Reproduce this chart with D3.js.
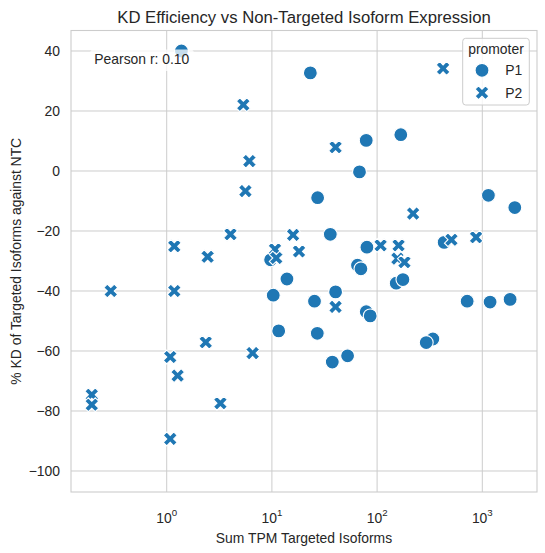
<!DOCTYPE html>
<html>
<head>
<meta charset="utf-8">
<script src="https://cdn.jsdelivr.net/npm/d3@7"></script>
<style>
  html, body { margin: 0; padding: 0; background: #fff; }
  svg { display: block; font-family: "Liberation Sans", Arial, sans-serif; }
</style>
</head>
<body>
<svg id="chart" width="545" height="553"></svg>
<script>
// ---- data ----
const p1X = [1.38, 23.2, 78.8, 168, 68, 27.2, 1143, 2037, 9.72, 13.9, 10.3, 11.6, 35.9, 80, 65.1, 70.2,
             152, 176, 434, 40.3, 25.4, 78.8, 86, 718, 1186, 1838, 27, 339, 293, 52.4, 37.5];
const p1Y = [40, 32.7, 10.2, 12.1, -0.3, -8.9, -8.1, -12.2, -29.6, -36, -41.4, -53.3, -21.1, -25.4, -31.4, -32.6,
             -37.4, -36.2, -23.8, -40.3, -43.4, -46.9, -48.3, -43.4, -43.7, -42.8, -54.1, -56, -57.2, -61.6, -63.7];
const p2X = [424, 5.35, 6.1, 5.6, 40.3, 220, 4.04, 1.18, 2.45, 15.9, 18.1, 10.7, 11.0, 0.294, 1.18,
             2.35, 6.56, 1.08, 1.27, 0.194, 0.194, 3.24, 1.08, 108, 160, 156, 182, 509, 873, 40.3];
const p2Y = [34.2, 22.1, 3.3, -6.7, 7.9, -14.2, -21.1, -25.1, -28.6, -21.3, -26.8, -26.1, -29.0, -40, -40,
             -57.1, -60.7, -62, -68.2, -74.6, -77.9, -77.4, -89.3, -24.8, -24.8, -29.2, -30.4, -22.9, -22.1, -45.3];
const promoters = ["P1", "P2"];
const xTickExps = [0, 1, 2, 3];
const yTicks = [-100, -80, -60, -40, -20, 0, 20, 40];
const pearsonLabel = "Pearson r: 0.10";
const titleText = "KD Efficiency vs Non-Targeted Isoform Expression";
const xLabelText = "Sum TPM Targeted Isoforms";
const yLabelText = "% KD of Targeted Isoforms against NTC";
const legendTitle = "promoter";

// ---- layout ----
const L = 71, R = 537, T = 30.5, B = 492;
const blue = "#1f77b4";
const grid = "#cccccc";
const textCol = "#262626";

const svg = d3.select("#chart");
const x = d3.scaleLog().domain([0.12309, 3311]).range([L, R]);
const y = d3.scaleLinear().domain([-107, 46.83]).range([B, T]);

// gridlines
const g = svg.append("g");
g.selectAll("line.xg").data(xTickExps).join("line")
  .attr("x1", d => x(Math.pow(10, d))).attr("x2", d => x(Math.pow(10, d)))
  .attr("y1", T).attr("y2", B).attr("stroke", grid).attr("stroke-width", 1);
g.selectAll("line.yg").data(yTicks).join("line")
  .attr("x1", L).attr("x2", R)
  .attr("y1", d => y(d)).attr("y2", d => y(d)).attr("stroke", grid).attr("stroke-width", 1);

// spines
svg.append("rect").attr("x", L).attr("y", T).attr("width", R - L).attr("height", B - T)
  .attr("fill", "none").attr("stroke", grid).attr("stroke-width", 1.1);

// y tick labels
svg.selectAll("text.yt").data(yTicks).join("text")
  .attr("x", 60).attr("y", d => y(d)).attr("dy", "0.36em")
  .attr("text-anchor", "end").attr("font-size", 13.9).attr("fill", textCol)
  .text(d => d < 0 ? "\u2212" + Math.abs(d) : String(d));

// x tick labels
const xt = svg.selectAll("text.xt").data(xTickExps).join("text")
  .attr("x", d => x(Math.pow(10, d))).attr("y", 523)
  .attr("text-anchor", "middle").attr("font-size", 13.9).attr("fill", textCol);
xt.append("tspan").text("10");
xt.append("tspan").attr("dy", -7).attr("font-size", 9.7).text(d => String(d));

// markers
const size = 13.9;
const xPath = (() => {
  const s = size / 4;
  const pts = [[-1,-2],[0,-1],[1,-2],[2,-1],[1,0],[2,1],[1,2],[0,1],[-1,2],[-2,1],[-1,0],[-2,-1]];
  return "M" + pts.map(p => (p[0]*s).toFixed(3) + "," + (p[1]*s).toFixed(3)).join("L") + "Z";
})();

const p1 = p1X.map((v, i) => ({ x: v, y: p1Y[i] }));
const p2 = p2X.map((v, i) => ({ x: v, y: p2Y[i] }));

const mk = svg.append("g");
mk.selectAll("circle").data(p1).join("circle")
  .attr("cx", d => x(d.x)).attr("cy", d => y(d.y)).attr("r", size / 2)
  .attr("fill", blue).attr("stroke", "#fff").attr("stroke-width", 1.1);
mk.selectAll("path").data(p2).join("path")
  .attr("d", xPath).attr("transform", d => `translate(${x(d.x)},${y(d.y)})`)
  .attr("fill", blue).attr("stroke", "#fff").attr("stroke-width", 1.1);

// pearson annotation
svg.append("rect").attr("x", 90).attr("y", 49.4).attr("width", 104).attr("height", 21.5)
  .attr("rx", 4).attr("fill", "#fff").attr("fill-opacity", 0.75);
svg.append("text").attr("x", 94.3).attr("y", 64.3).attr("font-size", 13.9).attr("fill", textCol)
  .text(pearsonLabel);

// title and axis labels
svg.append("text").attr("x", (L + R) / 2).attr("y", 22.5).attr("text-anchor", "middle")
  .attr("font-size", 16.7).attr("fill", textCol).text(titleText);
svg.append("text").attr("x", (L + R) / 2).attr("y", 543).attr("text-anchor", "middle")
  .attr("font-size", 13.9).attr("fill", textCol).text(xLabelText);
svg.append("text").attr("transform", `translate(20.7,${(T + B) / 2}) rotate(-90)`)
  .attr("text-anchor", "middle").attr("font-size", 13.9).attr("fill", textCol).text(yLabelText);

// legend
const lg = svg.append("g");
lg.append("rect").attr("x", 462.7).attr("y", 38.3).attr("width", 66.6).attr("height", 66.7)
  .attr("rx", 3).attr("fill", "#fff").attr("fill-opacity", 0.8)
  .attr("stroke", "#cccccc").attr("stroke-width", 1);
lg.append("text").attr("x", 496).attr("y", 54).attr("text-anchor", "middle")
  .attr("font-size", 13.9).attr("fill", textCol).text(legendTitle);
const rows = [70.3, 92.7];
promoters.forEach((p, i) => {
  if (i === 0) {
    lg.append("circle").attr("cx", 482).attr("cy", rows[i]).attr("r", size / 2)
      .attr("fill", blue).attr("stroke", "#fff").attr("stroke-width", 1.1);
  } else {
    lg.append("path").attr("d", xPath).attr("transform", `translate(482,${rows[i]})`)
      .attr("fill", blue).attr("stroke", "#fff").attr("stroke-width", 1.1);
  }
  lg.append("text").attr("x", 505.3).attr("y", rows[i]).attr("dy", "0.36em")
    .attr("font-size", 13.9).attr("fill", textCol).text(p);
});
</script>
</body>
</html>
